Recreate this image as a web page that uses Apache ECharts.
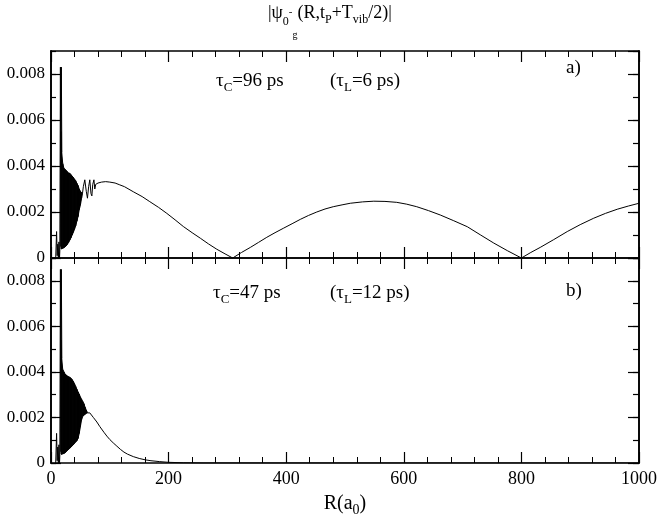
<!DOCTYPE html>
<html>
<head>
<meta charset="utf-8">
<script src="https://cdn.jsdelivr.net/npm/echarts@6/dist/echarts.min.js"></script>
<style>
  html, body { margin: 0; padding: 0; background: #fff; }
  #chart { width: 661px; height: 518px; }
</style>
</head>
<body>
<div id="chart"></div>
<script>
const SERIF = '"Liberation Serif", "Times New Roman", serif';

const R_MAX = 1000;
const Y_MAX = 0.009;

// panel a)  tau_C = 96 ps
const spikesA = [[8, 0], [9.5, 0.00115], [10.5, 0.0001], [11.5, 0.0006], [12.5, 0], [13.5, 0.0007], [14.5, 0],
  [15, 0.0003], [16, 0.0083], [16.8, 0.0005], [17.6, 0.0083], [18.4, 0.0046]];
const bandRA = [17, 18, 20, 22, 24, 26, 28, 30, 32, 34, 36, 38, 40, 42, 44, 46, 48, 50, 52, 53.5];
const bandUpA = [0.0055, 0.0046, 0.0041, 0.0039, 0.00385, 0.0038, 0.00375, 0.0037, 0.00368, 0.00362,
  0.00356, 0.0035, 0.00343, 0.00336, 0.00325, 0.00315, 0.0030, 0.0029, 0.00285, 0.0028];
const bandLoA = [0.0004, 0.0004, 0.00042, 0.00045, 0.00049, 0.00053, 0.0006, 0.00068, 0.00078, 0.00088,
  0.001, 0.00112, 0.00125, 0.0014, 0.0016, 0.0018, 0.0021, 0.0023, 0.0026, 0.0028];
const curveA = [[53.5, 0.0028], [55, 0.0031], [57.5, 0.0034], [60, 0.0029], [62, 0.0026], [64, 0.0031],
  [66, 0.0034], [68, 0.0028], [69.5, 0.0027], [71, 0.0032], [73, 0.0034], [74.5, 0.0030], [76, 0.0032],
  [80, 0.00326], [86, 0.0033], [93, 0.00332], [100, 0.0033], [109, 0.00326], [117, 0.00318], [125, 0.0031],
  [140, 0.00288], [155, 0.00267], [168, 0.00245], [183, 0.0022], [197, 0.00194], [211, 0.00166],
  [225, 0.00137], [240, 0.0011], [254, 0.00086], [268, 0.00061], [282, 0.00038], [296, 0.00018], [309, 0],
  [324, 0.00024], [339, 0.00046], [353, 0.00068], [367, 0.0009], [381, 0.0011], [395, 0.00129],
  [410, 0.00149], [424, 0.00168], [438, 0.00185], [452, 0.002], [466, 0.00213], [480, 0.00223],
  [495, 0.00231], [509, 0.00238], [530, 0.00244], [549, 0.00247], [568, 0.00246], [588, 0.00242],
  [605, 0.00234], [622, 0.00223], [642, 0.00206], [662, 0.00187], [685, 0.00162], [708, 0.00136],
  [730, 0.00101], [753, 0.00065], [776, 0.00032], [800, 0], [816, 0.00024], [832, 0.00046], [855, 0.0008],
  [878, 0.00115], [900, 0.00145], [923, 0.00173], [943, 0.00194], [963, 0.00212], [982, 0.00226],
  [1000, 0.00238]];

// panel b)  tau_C = 47 ps
const spikesB = [[8, 0], [9.5, 0.0013], [10.5, 0.0001], [11.5, 0.0007], [12.5, 0], [13.5, 0.0008], [14.5, 0],
  [15, 0.0003], [16, 0.0085], [16.8, 0.0005], [17.6, 0.0085], [18.4, 0.0046]];
const bandRB = [17, 18, 20, 22, 24, 26, 28, 30, 32, 34, 36, 38, 40, 42, 44, 46, 48, 50, 52, 54, 56, 58, 60, 62];
const bandUpB = [0.0054, 0.0046, 0.0041, 0.0040, 0.0039, 0.00386, 0.00382, 0.00379, 0.00376, 0.00372,
  0.00366, 0.00358, 0.00348, 0.00336, 0.00324, 0.00312, 0.00302, 0.0029, 0.0028, 0.0027, 0.0026, 0.00245,
  0.00232, 0.00222];
const bandLoB = [0.0004, 0.00038, 0.0004, 0.00042, 0.00045, 0.0005, 0.00055, 0.0006, 0.00065, 0.0007,
  0.00075, 0.0008, 0.00086, 0.00092, 0.00098, 0.00108, 0.0013, 0.0016, 0.0019, 0.00205, 0.0021, 0.00214,
  0.00218, 0.0022];
const curveB = [[62, 0.0022], [66, 0.0022], [72, 0.002], [78, 0.0018], [83, 0.0016], [90, 0.00135],
  [95, 0.00118], [100, 0.00103], [106, 0.00088], [112, 0.00074], [118, 0.0006], [124, 0.00048],
  [130, 0.00039], [140, 0.00028], [150, 0.0002], [160, 0.00014], [170, 0.0001], [185, 0.00006],
  [200, 0.00003], [225, 0.00001], [260, 0], [1000, 0]];

const chart = echarts.init(document.getElementById('chart'), null, { renderer: 'canvas' });

const black = '#000';
const frame = { color: black, width: 1.6 };

function xAxisFor(gridIndex, position, withLabels) {
  const ax = {
    type: 'value', gridIndex, position, min: 0, max: R_MAX, interval: 200,
    axisLine: { show: true, onZero: false, lineStyle: frame },
    axisTick: { show: true, inside: true, length: 11, lineStyle: { color: black, width: 1.2 } },
    minorTick: { show: true, splitNumber: 5, length: 6, lineStyle: { color: black, width: 1 } },
    splitLine: { show: false },
    axisLabel: {
      show: withLabels, color: black, fontFamily: SERIF, fontSize: 18, margin: 7,
      formatter: v => String(v)
    }
  };
  if (withLabels) {
    ax.name = '{m|R(a}{s|0}{m|)}';
    ax.nameLocation = 'middle';
    ax.nameGap = 28;
    ax.nameTextStyle = {
      rich: {
        m: { fontFamily: SERIF, fontSize: 20, color: black },
        s: { fontFamily: SERIF, fontSize: 14, color: black, padding: [12, 0, 0, 0] }
      }
    };
  }
  return ax;
}

function yAxisFor(gridIndex, position, step, tickLen, withLabels) {
  return {
    type: 'value', gridIndex, position, min: 0, max: Y_MAX, interval: step,
    axisLine: { show: true, onZero: false, lineStyle: frame },
    axisTick: { show: true, inside: true, length: tickLen, lineStyle: { color: black, width: 1.2 } },
    splitLine: { show: false },
    axisLabel: {
      show: withLabels, showMaxLabel: false, color: black, fontFamily: SERIF, fontSize: 17, margin: 6,
      formatter: v => (v === 0 ? '0' : v.toFixed(3))
    }
  };
}

const xAxes = [
  xAxisFor(0, 'bottom', false), xAxisFor(0, 'top', false),
  xAxisFor(1, 'bottom', true), xAxisFor(1, 'top', false)
];
const yAxes = [];
[0, 1].forEach(g => {
  yAxes.push(yAxisFor(g, 'left', 0.002, 10, true));
  yAxes.push(yAxisFor(g, 'right', 0.002, 11, false));
  yAxes.push(yAxisFor(g, 'left', 0.001, 5, false));
  yAxes.push(yAxisFor(g, 'right', 0.001, 6, false));
});

// filled envelope of the fast oscillation: one quad per pair of neighbouring samples
function bandSeries(xi, yi, bandR, bandUp, bandLo) {
  return {
    type: 'custom', coordinateSystem: 'cartesian2d', xAxisIndex: xi, yAxisIndex: yi,
    data: bandR.map((r, i) => [r, bandLo[i], bandUp[i]]),
    encode: { x: 0, y: [1, 2] },
    renderItem(params, api) {
      const i = params.dataIndex;
      if (i >= bandR.length - 1) return null;
      const pts = [
        api.coord([bandR[i], bandLo[i]]), api.coord([bandR[i + 1], bandLo[i + 1]]),
        api.coord([bandR[i + 1], bandUp[i + 1]]), api.coord([bandR[i], bandUp[i]])
      ];
      return { type: 'polygon', shape: { points: pts }, style: { fill: black, stroke: black, lineWidth: 1 } };
    }
  };
}

function panelSeries(xi, yi, spikes, bandR, bandUp, bandLo, curve) {
  const line = { color: black, width: 1 };
  return [
    { type: 'line', xAxisIndex: xi, yAxisIndex: yi, data: spikes, symbol: 'none', lineStyle: line },
    bandSeries(xi, yi, bandR, bandUp, bandLo),
    { type: 'line', xAxisIndex: xi, yAxisIndex: yi, data: curve, symbol: 'none', lineStyle: line }
  ];
}

const subRich = {
  s: { fontFamily: SERIF, fontSize: 13, color: black, padding: [12, 0, 0, 0] }
};
function note(text, left, top, size) {
  return {
    text, left, top, padding: 0,
    textStyle: { fontFamily: SERIF, fontSize: size || 19, fontWeight: 'normal', color: black, rich: subRich }
  };
}

chart.setOption({
  animation: false,
  backgroundColor: '#fff',
  title: [
    {
      text: '|ψ{s0|0}{sp|-}{sg|g}(R,t{s|P}+T{s|vib}/2)|', left: 268, top: -14, padding: 0,
      textStyle: {
        fontFamily: SERIF, fontSize: 18, fontWeight: 'normal', color: black,
        rich: {
          s0: { fontFamily: SERIF, fontSize: 12, color: black, padding: [18, 0, 0, 0] },
          sp: { fontFamily: SERIF, fontSize: 11, color: black, padding: [0, 0, 2, 0] },
          sg: { fontFamily: SERIF, fontSize: 10, color: black, padding: [44, 0, 0, 0] },
          s: { fontFamily: SERIF, fontSize: 12, color: black, padding: [14, 0, 0, 0] }
        }
      }
    },
    note('τ{s|C}=96 ps', 216, 69),
    note('(τ{s|L}=6 ps)', 330, 69),
    note('a)', 566, 59),
    note('τ{s|C}=47 ps', 213, 281),
    note('(τ{s|L}=12 ps)', 330, 281),
    note('b)', 566, 282)
  ],
  grid: [
    { left: 51, right: 22, top: 51, height: 207 },
    { left: 51, right: 22, top: 258, height: 206 }
  ],
  xAxis: xAxes,
  yAxis: yAxes,
  series: [
    ...panelSeries(0, 0, spikesA, bandRA, bandUpA, bandLoA, curveA),
    ...panelSeries(2, 4, spikesB, bandRB, bandUpB, bandLoB, curveB)
  ]
});
</script>
</body>
</html>
